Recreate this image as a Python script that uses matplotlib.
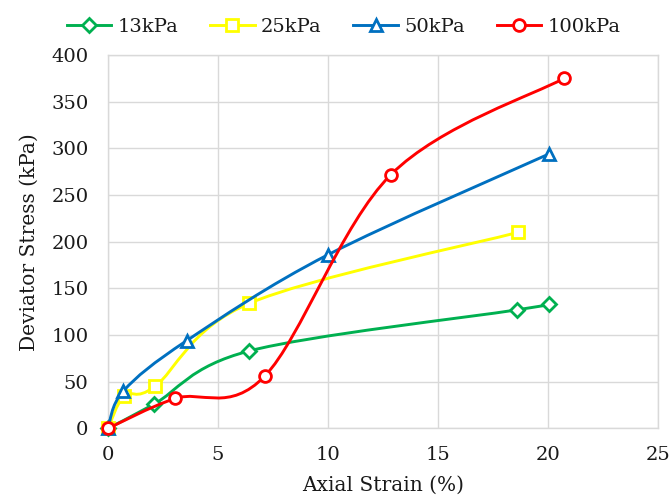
import numpy as np
import matplotlib
matplotlib.use("Agg")
import matplotlib.pyplot as plt
from matplotlib.path import Path
from matplotlib.patches import PathPatch

plt.rcParams['font.family'] = ['DejaVu Serif']

labels = ["13kPa", "25kPa", "50kPa", "100kPa"]
strain_13 = [0, 2.1, 6.43, 18.6, 20.05]
stress_13 = [0, 26, 83, 127, 133]
strain_25 = [0, 0.75, 2.14, 6.43, 18.64]
stress_25 = [0, 35, 45, 134, 210]
strain_50 = [0, 0.7, 3.58, 10.0, 20.05]
stress_50 = [0, 40, 94, 186, 294]
strain_100 = [0, 3.05, 7.13, 12.87, 20.73]
stress_100 = [0, 32, 56, 272, 375]

xs = [strain_13, strain_25, strain_50, strain_100]
ys = [stress_13, stress_25, stress_50, stress_100]
colors = ["#00b050", "#ffff00", "#0070c0", "#ff0000"]
markers = ["D", "s", "^", "o"]
msizes = [7, 8.5, 8.5, 8.5]

fig = plt.figure(figsize=(6.72, 5.01), dpi=100)
ax = fig.add_axes([0.1607, 0.145, 0.818, 0.745])


def smooth_path(x, y):
    P = np.column_stack([x, y]).astype(float)
    n = len(P)
    verts = [P[0]]
    codes = [Path.MOVETO]
    for i in range(n - 1):
        p0 = P[i - 1] if i > 0 else P[i]
        p1 = P[i]
        p2 = P[i + 1]
        p3 = P[i + 2] if i + 2 < n else P[i + 1]
        c1 = p1 + (p2 - p0) / 6.0
        c2 = p2 - (p3 - p1) / 6.0
        verts += [c1, c2, p2]
        codes += [Path.CURVE4] * 3
    return Path(verts, codes)


handles = []
for i in range(4):
    patch = PathPatch(smooth_path(xs[i], ys[i]), facecolor="none",
                      edgecolor=colors[i], lw=2.1, zorder=3 + i,
                      capstyle="round", joinstyle="round")
    ax.add_patch(patch)
    ax.plot(xs[i], ys[i], linestyle="none", marker=markers[i],
            ms=msizes[i], mfc="white", mec=colors[i], mew=2.0,
            zorder=3 + i + 0.5, clip_on=False)
    lh, = ax.plot([], [], color=colors[i], lw=2.1, marker=markers[i],
                  ms=msizes[i], mfc="white", mec=colors[i], mew=2.0)
    handles.append(lh)

ax.set_xlim(0, 25)
ax.set_ylim(0, 400)
ax.set_xticks(range(0, 26, 5))
ax.set_yticks(range(0, 401, 50))
ax.grid(True, color="#d9d9d9", lw=1.0)
ax.set_axisbelow(True)
for s in ax.spines.values():
    s.set_color("#d9d9d9")
    s.set_linewidth(1.0)
ax.tick_params(length=0, labelsize=14, colors="#1a1a1a")
ax.tick_params(axis="y", pad=14)
ax.tick_params(axis="x", pad=13)
ax.set_xlabel("Axial Strain (%)", fontsize=14.5, color="#1a1a1a", labelpad=8)
ax.set_ylabel("Deviator Stress (kPa)", fontsize=14.5, color="#1a1a1a", labelpad=9)

fig.legend(handles, labels, loc="center left", bbox_to_anchor=(66.7 / 672, 0.947),
           ncol=4, frameon=False, fontsize=14, handlelength=2.3,
           columnspacing=1.65, handletextpad=0.3, borderpad=0, borderaxespad=0,
           labelcolor="#1a1a1a")

fig.savefig("out.png", dpi=100)
